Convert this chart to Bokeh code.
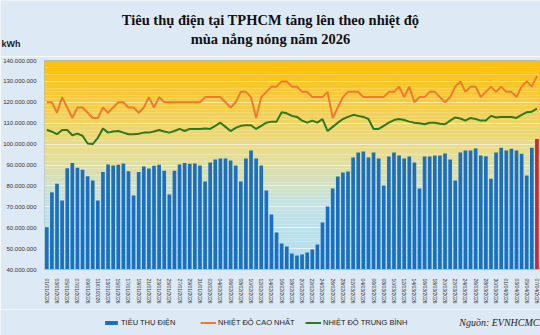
import pandas as pd
from bokeh.plotting import figure
from bokeh.layouts import column
from bokeh.models import (ColumnDataSource, FixedTicker, Legend, LegendItem, Label,
                          Range1d)
from bokeh.embed import file_html
from bokeh.resources import INLINE

# ---------------- data ----------------
dates = [d.strftime("%d/%m/%Y") for d in pd.date_range("2026-01-01", "2026-04-07")]

# daily consumption, million kWh
consumption_m = [
    60.2, 77.0, 81.0, 73.0, 88.5, 90.9, 88.7, 87.7, 84.6, 82.6,
    73.0, 86.6, 90.2, 89.8, 90.1, 90.7, 87.0, 75.4, 86.7, 89.3,
    88.3, 89.6, 90.1, 87.2, 75.9, 87.2, 90.2, 90.9, 90.6, 90.7,
    89.8, 82.1, 91.2, 92.6, 93.1, 93.1, 92.2, 89.8, 82.1, 93.1,
    96.9, 93.1, 89.8, 77.8, 66.3, 57.7, 52.4, 51.0, 47.7, 46.7,
    47.2, 48.1, 49.6, 52.0, 62.5, 70.1, 78.8, 84.5, 86.4, 86.9,
    93.6, 96.0, 96.5, 93.6, 96.0, 93.1, 80.2, 94.1, 96.0, 94.5,
    93.1, 94.1, 91.2, 78.8, 94.1, 94.1, 94.5, 94.5, 95.5, 92.6,
    82.6, 96.0, 96.9, 96.9, 97.9, 94.5, 94.2, 83.4, 96.0, 98.2,
    96.9, 97.8, 96.9, 95.4, 85.0, 98.2, 102.5,
]

# max temperature, deg C
temp_max = [
    32, 32, 30, 33, 31, 29, 31, 31, 30, 29,
    29, 31, 30, 31, 32, 32, 31, 31, 30, 31,
    33, 31, 33, 32, 32, 32, 32, 32, 32, 32,
    32, 33, 33, 33, 33, 32, 31, 32, 34, 34,
    33, 29, 33, 34, 35, 35, 36, 36, 35, 35,
    34, 34, 33, 33, 33, 34, 29, 31, 33, 34,
    34, 34, 33, 33, 33, 33, 33, 34, 34, 35,
    33, 35, 32, 33, 33, 34, 34, 33, 32, 33,
    35, 36, 34, 35, 35, 33, 34, 35, 34, 35,
    34, 34, 33, 35, 36, 35, 37,
]

# average temperature, deg C
temp_avg = [
    26.7, 26.4, 25.9, 26.7, 26.7, 25.7, 26.0, 25.6, 24.1, 24.0,
    25.2, 27.0, 26.2, 26.4, 26.5, 26.2, 25.9, 25.9, 26.0, 26.2,
    26.2, 26.4, 26.7, 26.4, 26.2, 26.5, 26.9, 26.5, 26.9, 26.9,
    26.9, 27.0, 26.9, 27.5, 28.1, 27.3, 26.5, 27.1, 27.5, 27.6,
    27.6, 26.9, 27.5, 28.1, 28.3, 28.3, 30.1, 29.9, 29.4, 29.2,
    28.5, 28.1, 28.5, 28.1, 28.8, 26.5, 27.3, 28.1, 28.8, 29.2,
    29.6, 29.4, 29.2, 28.8, 26.9, 26.9, 27.5, 28.1, 28.6, 28.8,
    28.6, 28.3, 28.1, 28.0, 27.8, 28.1, 28.1, 27.9, 27.8, 28.5,
    29.1, 28.9, 28.5, 29.0, 28.8, 28.5, 28.5, 29.4, 29.1, 29.2,
    29.2, 29.2, 29.0, 29.6, 30.1, 30.2, 30.8,
]

y_ticks = [40_000_000 + 10_000_000 * k for k in range(11)]
y_tick_labels = ["40.000.000", "50.000.000", "60.000.000", "70.000.000", "80.000.000",
                 "90.000.000", "100.000.000", "110.000.000", "120.000.000",
                 "130.000.000", "140.000.000"]

title_1 = "Tiêu thụ điện tại TPHCM tăng lên theo nhiệt độ"
title_2 = "mùa nắng nóng năm 2026"
unit_text = "kWh"
source_text = "Nguồn: EVNHCMC"
legend_labels = ["TIÊU THỤ ĐIỆN", "NHIỆT ĐỘ CAO NHẤT", "NHIỆT ĐỘ TRUNG BÌNH"]

# ---------------- layout constants ----------------
W = 540
TOP_H = 56          # header strip
MAIN_H = 253        # plot strip (frame 60..269 on the page)
BOT_H = 335 - TOP_H - MAIN_H
PAGE_BG = "#dde9f5"
BLUE = "#1a6fc3"
RED = "#d3232b"
ORANGE = "#f07a2e"
GREEN = "#2c7a1e"


def strip(h):
    f = figure(width=W, height=h, output_backend="svg", toolbar_location=None,
               x_range=Range1d(0, W), y_range=Range1d(h, 0),
               x_axis_type=None, y_axis_type=None, min_border=0)
    try:
        f.frame_align = False
    except Exception:
        pass
    f.outline_line_color = None
    f.background_fill_color = PAGE_BG
    f.border_fill_color = PAGE_BG
    f.grid.visible = False
    return f


# ---------------- header ----------------
top = strip(TOP_H)
for txt, yy in ((title_1, 19), (title_2, 38)):
    top.add_layout(Label(x=270, y=yy, text=txt, text_align="center", text_baseline="middle",
                         text_font="Liberation Serif", text_font_style="bold",
                         text_font_size="14.5px", text_color="#111111"))
top.add_layout(Label(x=1, y=43, text=unit_text, text_align="left", text_baseline="middle",
                     text_font="Liberation Sans", text_font_style="bold",
                     text_font_size="9px", text_color="#222222"))

# ---------------- main plot ----------------
n = len(dates)
idx = list(range(n))
src = ColumnDataSource(dict(
    x=idx,
    kwh=[v * 1_000_000 for v in consumption_m],
    tmax=temp_max,
    tavg=temp_avg,
    color=[BLUE] * (n - 1) + [RED],
))

p = figure(width=W, height=MAIN_H, output_backend="svg", toolbar_location=None,
           x_range=Range1d(-0.45, n - 0.3), y_range=Range1d(y_ticks[0], y_ticks[-1]),
           min_border_left=40, min_border_right=0, min_border_top=4,
           min_border_bottom=40)
p.extra_y_ranges = {"temp": Range1d(0, 40)}
p.background_fill_color = None
p.border_fill_color = PAGE_BG
p.outline_line_color = "#a9bccd"

# gradient background bands (styling)
stops = [(0.0, (176, 222, 244)), (0.3, (194, 226, 230)), (0.55, (230, 222, 150)),
         (0.8, (247, 204, 66)), (1.0, (254, 190, 10))]
nb = 60
lo, hi = y_ticks[0], y_ticks[-1]
bl, bt, bc = [], [], []
for k in range(nb):
    f = (k + 0.5) / nb
    for (f0, c0), (f1, c1) in zip(stops[:-1], stops[1:]):
        if f0 <= f <= f1:
            t = (f - f0) / (f1 - f0)
            c = tuple(int(round(a + (b - a) * t)) for a, b in zip(c0, c1))
            break
    bl.append(lo + (hi - lo) * k / nb)
    bt.append(lo + (hi - lo) * (k + 1) / nb)
    bc.append("#%02x%02x%02x" % c)
bg = p.quad(left=-5, right=n + 5, bottom=bl, top=bt, fill_color=bc, line_color=None)
bg.level = "image"

p.vbar(x="x", top="kwh", width=0.72, source=src, fill_color="color", line_color=None)
p.line(x="x", y="tmax", source=src, y_range_name="temp", line_color=ORANGE, line_width=2)
p.line(x="x", y="tavg", source=src, y_range_name="temp", line_color=GREEN, line_width=2)

p.xgrid.grid_line_color = None
p.ygrid.ticker = FixedTicker(ticks=y_ticks)
p.ygrid.grid_line_color = "white"
p.ygrid.grid_line_alpha = 0.55

p.yaxis.ticker = FixedTicker(ticks=y_ticks)
p.yaxis.major_label_overrides = {t: s for t, s in zip(y_ticks, y_tick_labels)}
p.yaxis.major_label_text_font = "Liberation Sans"
p.yaxis.major_label_text_font_size = "6px"
p.yaxis.major_label_text_color = "#333333"
p.yaxis.major_tick_line_color = None
p.yaxis.minor_tick_line_color = None
p.yaxis.axis_line_color = None
p.yaxis.major_label_standoff = 2

xt = idx[::2]
p.xaxis.ticker = FixedTicker(ticks=xt)
p.xaxis.major_label_overrides = {i: dates[i] for i in xt}
p.xaxis.major_label_orientation = "vertical"
p.xaxis.major_label_text_font = "Liberation Sans"
p.xaxis.major_label_text_font_size = "5px"
p.xaxis.major_label_text_color = "#333333"
p.xaxis.major_tick_line_color = None
p.xaxis.minor_tick_line_color = None
p.xaxis.axis_line_color = "#a9bccd"
p.xaxis.major_label_standoff = 3

# ---------------- legend strip ----------------
bot = strip(BOT_H)
# legend key glyphs: one point each, placed outside the strip's visible range
r_bar = bot.vbar(x=[-50], top=[0], bottom=[0], width=1, fill_color=BLUE, line_color=None)
r_max = bot.line(x=[-60, -50], y=[0, 0], line_color=ORANGE, line_width=2)
r_avg = bot.line(x=[-60, -50], y=[0, 0], line_color=GREEN, line_width=2)
leg_common = dict(orientation="horizontal", background_fill_alpha=0, border_line_color=None,
                  label_text_font="Liberation Sans", label_text_font_size="7.5px",
                  label_text_color="#222222", glyph_width=16, glyph_height=5,
                  label_standoff=2, padding=0, margin=0, label_height=9)
for lab, rend, cx in ((legend_labels[0], r_bar, 103),
                      (legend_labels[1], r_max, 200),
                      (legend_labels[2], r_avg, 305)):
    bot.add_layout(Legend(items=[LegendItem(label=lab, renderers=[rend])],
                          location=(cx, BOT_H // 2 - 5), **leg_common))
bot.add_layout(Label(x=539, y=BOT_H / 2, text=source_text, text_align="right",
                     text_baseline="middle", text_font="Liberation Serif",
                     text_font_style="italic", text_font_size="10px", text_color="#222222"))

layout = column(top, p, bot, spacing=0)
open("out.html", "w").write(file_html(layout, INLINE))
